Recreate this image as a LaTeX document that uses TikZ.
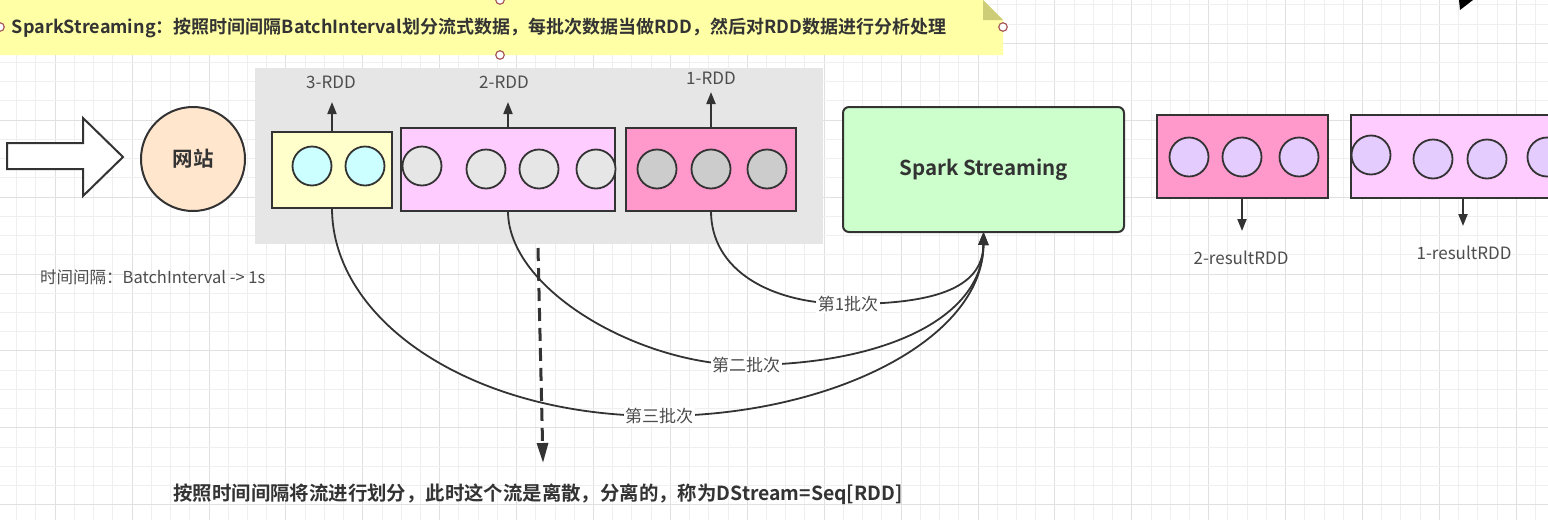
\documentclass[tikz,border=0pt]{standalone}
\usepackage{fontspec}
\setmainfont{Noto Sans CJK SC}[BoldFont={Noto Sans CJK SC Bold}]
\usetikzlibrary{arrows.meta}
\definecolor{ink}{HTML}{333333}
\definecolor{txt}{HTML}{333333}
\definecolor{lbl}{HTML}{4D4D4D}
\definecolor{gridminor}{HTML}{EFEFEF}
\definecolor{gridmajor}{HTML}{E0E0E0}
\definecolor{notefill}{HTML}{FFFFA6}
\definecolor{notefold}{HTML}{CDCD78}
\definecolor{handle}{HTML}{A85A5A}
\definecolor{groupfill}{HTML}{E6E6E6}
\definecolor{peach}{HTML}{FFE6CC}
\definecolor{paleyellow}{HTML}{FFFFCC}
\definecolor{cyanball}{HTML}{CCFFFF}
\definecolor{lightpink}{HTML}{FFCCFF}
\definecolor{darkpink}{HTML}{FF99CC}
\definecolor{grayball}{HTML}{E6E6E6}
\definecolor{midgray}{HTML}{CCCCCC}
\definecolor{sparkgreen}{HTML}{CCFFCC}
\definecolor{lavender}{HTML}{E5CCFF}
\tikzset{
  box/.style={draw=ink, line width=2pt, inner sep=0pt, outer sep=0pt},
  ball/.style={circle, draw=ink, line width=1.8pt, minimum size=39pt, inner sep=0pt, outer sep=0pt},
  conn/.style={draw=ink, line width=1.8pt, -{Triangle[length=13pt,width=10pt]}},
  upar/.style={draw=ink, line width=2pt, -{Triangle[length=12pt,width=9pt]}},
  lab/.style={text=lbl, font=\fontsize{17}{19}\selectfont, inner sep=1pt},
  elab/.style={lab, fill=white, inner sep=1.5pt},
  hdl/.style={circle, draw=handle, fill=white, line width=1.2pt, minimum size=8.5pt, inner sep=0pt},
}
\begin{document}
\begin{tikzpicture}[x=1pt,y=-1pt]
\clip (0,0) rectangle (1548,520);
\fill[white] (0,0) rectangle (1548,520);
% grid
\foreach \k in {0,...,80}{
  \pgfmathsetmacro{\gx}{16.75+19.225*\k}
  \pgfmathsetmacro{\gm}{int(mod(\k,4))}
  \ifnum\gm=2 \draw[gridmajor, line width=1pt] (\gx,0) -- (\gx,520);
  \else \draw[gridminor, line width=1pt] (\gx,0) -- (\gx,520); \fi
}
\foreach \k in {0,...,27}{
  \pgfmathsetmacro{\gy}{4.85+19.225*\k}
  \pgfmathsetmacro{\gm}{int(mod(\k,4))}
  \ifnum\gm=2 \draw[gridmajor, line width=1pt] (0,\gy) -- (1548,\gy);
  \else \draw[gridminor, line width=1pt] (0,\gy) -- (1548,\gy); \fi
}
% note
\fill[notefill] (0,0) -- (983,0) -- (1003,20) -- (1003,55) -- (0,55) -- cycle;
\fill[notefold] (983,0) -- (983,20) -- (1003,20) -- cycle;
\node[text=txt, font=\fontsize{18}{20}\selectfont\bfseries, inner sep=0pt] (note) at (479,28)
  {SparkStreaming：按照时间间隔BatchInterval划分流式数据，每批次数据当做RDD，然后对RDD数据进行分析处理};
\node[hdl] (h1) at (0,27) {};
\node[hdl] (h2) at (500,0) {};
\node[hdl] (h3) at (500,55) {};
\node[hdl] (h4) at (1003,27) {};
% black tip top right
\fill[black] (1459,0) -- (1473,0) -- (1460,10) -- cycle;
% group background
\fill[groupfill] (255,68) rectangle (823,244);
% block arrow
\draw[ink, fill=white, line width=2pt, line join=miter] (7,143) -- (83,143) -- (83,118) -- (123,157) -- (83,196) -- (83,169) -- (7,169) -- cycle;
% website
\node[circle, draw=ink, fill=peach, line width=2pt, minimum size=104pt, inner sep=0pt, text=txt,
  font=\fontsize{20.5}{22}\selectfont\bfseries] (web) at (193,159) {网站};
% RDD boxes
\node[box, fill=paleyellow, minimum width=120pt, minimum height=76pt] (rdd3) at (332,170) {};
\node[box, fill=lightpink, minimum width=214pt, minimum height=83pt] (rdd2) at (508,169.5) {};
\node[box, fill=darkpink, minimum width=170pt, minimum height=83pt] (rdd1) at (711,169.5) {};
\node[ball, fill=cyanball] (c31) at (312,166) {};
\node[ball, fill=cyanball] (c32) at (365,166) {};
\node[ball, fill=grayball] (c21) at (422,166) {};
\node[ball, fill=grayball] (c22) at (486,169) {};
\node[ball, fill=grayball] (c23) at (539,169) {};
\node[ball, fill=grayball] (c24) at (596,169) {};
\node[ball, fill=midgray] (c11) at (657,169) {};
\node[ball, fill=midgray] (c12) at (711,169) {};
\node[ball, fill=midgray] (c13) at (767,169) {};
% RDD labels + up arrows
\node[lab] (l3) at (331,82) {3-RDD};
\node[lab] (l2) at (504,82) {2-RDD};
\node[lab] (l1) at (711,78) {1-RDD};
\coordinate (t3) at (332,102);
\coordinate (t2) at (508,102);
\coordinate (t1) at (711,92);
\draw[upar] (rdd3.north) -- (t3);
\draw[upar] (rdd2.north) -- (t2);
\draw[upar] (rdd1.north) -- (t1);
% spark streaming
\node[draw=ink, fill=sparkgreen, line width=2pt, rounded corners=6pt, minimum width=281pt, minimum height=125pt,
  inner sep=0pt, outer sep=0pt, text=txt, font=\fontsize{20.5}{22}\selectfont\bfseries] (spark) at (983.5,169.5) {Spark Streaming};
% result boxes
\node[box, fill=darkpink, minimum width=171pt, minimum height=83pt] (res2) at (1242.5,156.5) {};
\node[box, fill=lightpink, minimum width=249pt, minimum height=83pt] (res1) at (1475.5,156.5) {};
\node[ball, fill=lavender] (r21) at (1189,157) {};
\node[ball, fill=lavender] (r22) at (1242,157) {};
\node[ball, fill=lavender] (r23) at (1299,157) {};
\node[ball, fill=lavender] (r11) at (1371,155) {};
\node[ball, fill=lavender] (r12) at (1433,159) {};
\node[ball, fill=lavender] (r13) at (1487,159) {};
\node[ball, fill=lavender] (r14) at (1547,157) {};
\coordinate (d2) at (1242,231);
\coordinate (d1) at (1463,226);
\draw[upar] (1242,198) -- (d2);
\draw[upar] (1463,198) -- (d1);
\node[lab] (rl2) at (1241,258) {2-resultRDD};
\node[lab] (rl1) at (1464,253) {1-resultRDD};
% interval text
\node[lab, anchor=west, font=\fontsize{16.5}{18}\selectfont] (interval) at (39,277) {时间间隔：BatchInterval -> 1s};
% curves
\draw[conn] (rdd3.south) .. controls (332,320) and (470,416) .. (659,416)
  node[elab] (b3) {第三批次}
  .. controls (830,416) and (983,340) .. (spark.south);
\draw[conn] (rdd2.south) .. controls (508,290) and (640,365) .. (746,365)
  node[elab] (b2) {第二批次}
  .. controls (880,365) and (983,320) .. (spark.south);
\draw[conn] (rdd1.south) .. controls (711,270) and (770,304) .. (848,304)
  node[elab] (b1) {第1批次}
  .. controls (930,304) and (983,290) .. (spark.south);
% dashed arrow
\coordinate (ds) at (538,248);
\coordinate (de) at (543,463);
\draw[draw=ink, line width=3pt, dash pattern=on 13pt off 7pt, -{Triangle[length=20pt,width=11pt]}] (ds) -- (de);
% bottom text
\node[text=txt, font=\fontsize{19.4}{21}\selectfont\bfseries, inner sep=0pt] (bottom) at (538,494)
  {按照时间间隔将流进行划分，此时这个流是离散，分离的，称为DStream=Seq[RDD]};
\end{tikzpicture}
\end{document}
